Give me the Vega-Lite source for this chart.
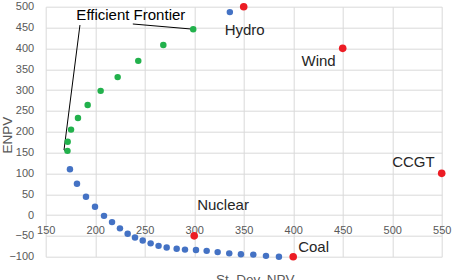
{
  "$schema": "https://vega.github.io/schema/vega-lite/v6.json",
  "width": 396,
  "height": 250,
  "autosize": {"type": "none"},
  "padding": {"left": 45.7, "top": 6.7, "right": 12.3, "bottom": 23.3},
  "config": {
    "view": {"stroke": null},
    "font": "Liberation Sans",
    "axis": {
      "domain": false,
      "ticks": false,
      "grid": true,
      "gridColor": "#d9d9d9",
      "gridWidth": 1,
      "labelColor": "#595959",
      "labelFontSize": 11,
      "labelFont": "Liberation Sans",
      "labelFlush": false,
      "labelOverlap": false,
      "titleColor": "#595959",
      "titleFont": "Liberation Sans",
      "titleFontSize": 13.5,
      "titleFontWeight": "normal"
    }
  },
  "datasets": {
    "frontier": [
      {"sd": 172, "enpv": 154},
      {"sd": 172.2, "enpv": 176},
      {"sd": 175.6, "enpv": 205},
      {"sd": 182.6, "enpv": 233},
      {"sd": 192.4, "enpv": 264},
      {"sd": 205.5, "enpv": 298},
      {"sd": 222.7, "enpv": 331},
      {"sd": 243.5, "enpv": 370},
      {"sd": 268.8, "enpv": 408},
      {"sd": 299, "enpv": 446}
    ],
    "portfolios": [
      {"sd": 174.5, "enpv": 110},
      {"sd": 181.6, "enpv": 75},
      {"sd": 190.7, "enpv": 44},
      {"sd": 199.8, "enpv": 20},
      {"sd": 208.9, "enpv": -2},
      {"sd": 217, "enpv": -17},
      {"sd": 225, "enpv": -32},
      {"sd": 232.8, "enpv": -45},
      {"sd": 240.2, "enpv": -54},
      {"sd": 248, "enpv": -61},
      {"sd": 256, "enpv": -68},
      {"sd": 264, "enpv": -74},
      {"sd": 272.2, "enpv": -78},
      {"sd": 282.3, "enpv": -81},
      {"sd": 290.7, "enpv": -83},
      {"sd": 301.8, "enpv": -84},
      {"sd": 312.6, "enpv": -86},
      {"sd": 323.7, "enpv": -89},
      {"sd": 335.4, "enpv": -92},
      {"sd": 347.2, "enpv": -94},
      {"sd": 359.7, "enpv": -95},
      {"sd": 372.5, "enpv": -98},
      {"sd": 385.6, "enpv": -100},
      {"sd": 336, "enpv": 487}
    ],
    "technologies": [
      {"name": "Hydro", "sd": 350, "enpv": 500},
      {"name": "Wind", "sd": 450, "enpv": 400},
      {"name": "CCGT", "sd": 550, "enpv": 100},
      {"name": "Nuclear", "sd": 300, "enpv": -50},
      {"name": "Coal", "sd": 400, "enpv": -100}
    ],
    "notes": [
      {"label": "Efficient Frontier", "sd": 236, "enpv": 480}
    ],
    "leaders": [
      {"sd": 184.6, "enpv": 456, "sd2": 168.5, "enpv2": 156},
      {"sd": 168.5, "enpv": 156, "sd2": 172, "enpv2": 154},
      {"sd": 238, "enpv": 458.5, "sd2": 299, "enpv2": 446}
    ]
  },
  "encoding": {
    "x": {
      "field": "sd",
      "type": "quantitative",
      "scale": {"domain": [150, 550], "nice": false, "zero": false},
      "axis": {
        "title": "St. Dev. NPV",
        "values": [150, 200, 250, 300, 350, 400, 450, 500, 550],
        "offset": -41.7,
        "labelPadding": 9,
        "titleX": 209,
        "titleY": 57,
        "titleBaseline": "top",
        "titleAnchor": "middle"
      }
    },
    "y": {
      "field": "enpv",
      "type": "quantitative",
      "scale": {"domain": [-100, 500], "nice": false, "zero": false},
      "axis": {
        "title": "ENPV",
        "values": [-100, -50, 0, 50, 100, 150, 200, 250, 300, 350, 400, 450, 500],
        "labelPadding": 12,
        "titleX": -38.7,
        "titleY": 128,
        "titleBaseline": "middle",
        "titleAnchor": "middle"
      }
    }
  },
  "layer": [
    {
      "data": {"name": "leaders"},
      "mark": {"type": "rule", "color": "#000000", "strokeWidth": 1},
      "encoding": {
        "x2": {"field": "sd2"},
        "y2": {"field": "enpv2"}
      }
    },
    {
      "data": {"name": "portfolios"},
      "mark": {"type": "circle", "size": 42, "color": "#4472c4", "opacity": 1}
    },
    {
      "data": {"name": "frontier"},
      "mark": {"type": "circle", "size": 42, "color": "#22b14c", "opacity": 1}
    },
    {
      "data": {"name": "technologies"},
      "mark": {"type": "circle", "size": 58, "color": "#ec1c24", "opacity": 1}
    },
    {
      "data": {"name": "technologies"},
      "transform": [{"filter": "datum.name === 'Hydro'"}],
      "mark": {"type": "text", "fontSize": 15, "color": "#262626", "align": "center", "baseline": "middle", "dx": 1, "dy": 23},
      "encoding": {"text": {"field": "name"}}
    },
    {
      "data": {"name": "technologies"},
      "transform": [{"filter": "datum.name === 'Wind'"}],
      "mark": {"type": "text", "fontSize": 15, "color": "#262626", "align": "right", "baseline": "middle", "dx": -7, "dy": 13},
      "encoding": {"text": {"field": "name"}}
    },
    {
      "data": {"name": "technologies"},
      "transform": [{"filter": "datum.name === 'CCGT'"}],
      "mark": {"type": "text", "fontSize": 15, "color": "#262626", "align": "right", "baseline": "middle", "dx": -7, "dy": -11},
      "encoding": {"text": {"field": "name"}}
    },
    {
      "data": {"name": "technologies"},
      "transform": [{"filter": "datum.name === 'Nuclear'"}],
      "mark": {"type": "text", "fontSize": 15, "color": "#262626", "align": "left", "baseline": "middle", "dx": 3, "dy": -31},
      "encoding": {"text": {"field": "name"}}
    },
    {
      "data": {"name": "technologies"},
      "transform": [{"filter": "datum.name === 'Coal'"}],
      "mark": {"type": "text", "fontSize": 15, "color": "#262626", "align": "left", "baseline": "middle", "dx": 5, "dy": -10},
      "encoding": {"text": {"field": "name"}}
    },
    {
      "data": {"name": "notes"},
      "mark": {"type": "text", "fontSize": 15, "color": "#000000", "align": "center", "baseline": "middle"},
      "encoding": {"text": {"field": "label"}}
    }
  ]
}
